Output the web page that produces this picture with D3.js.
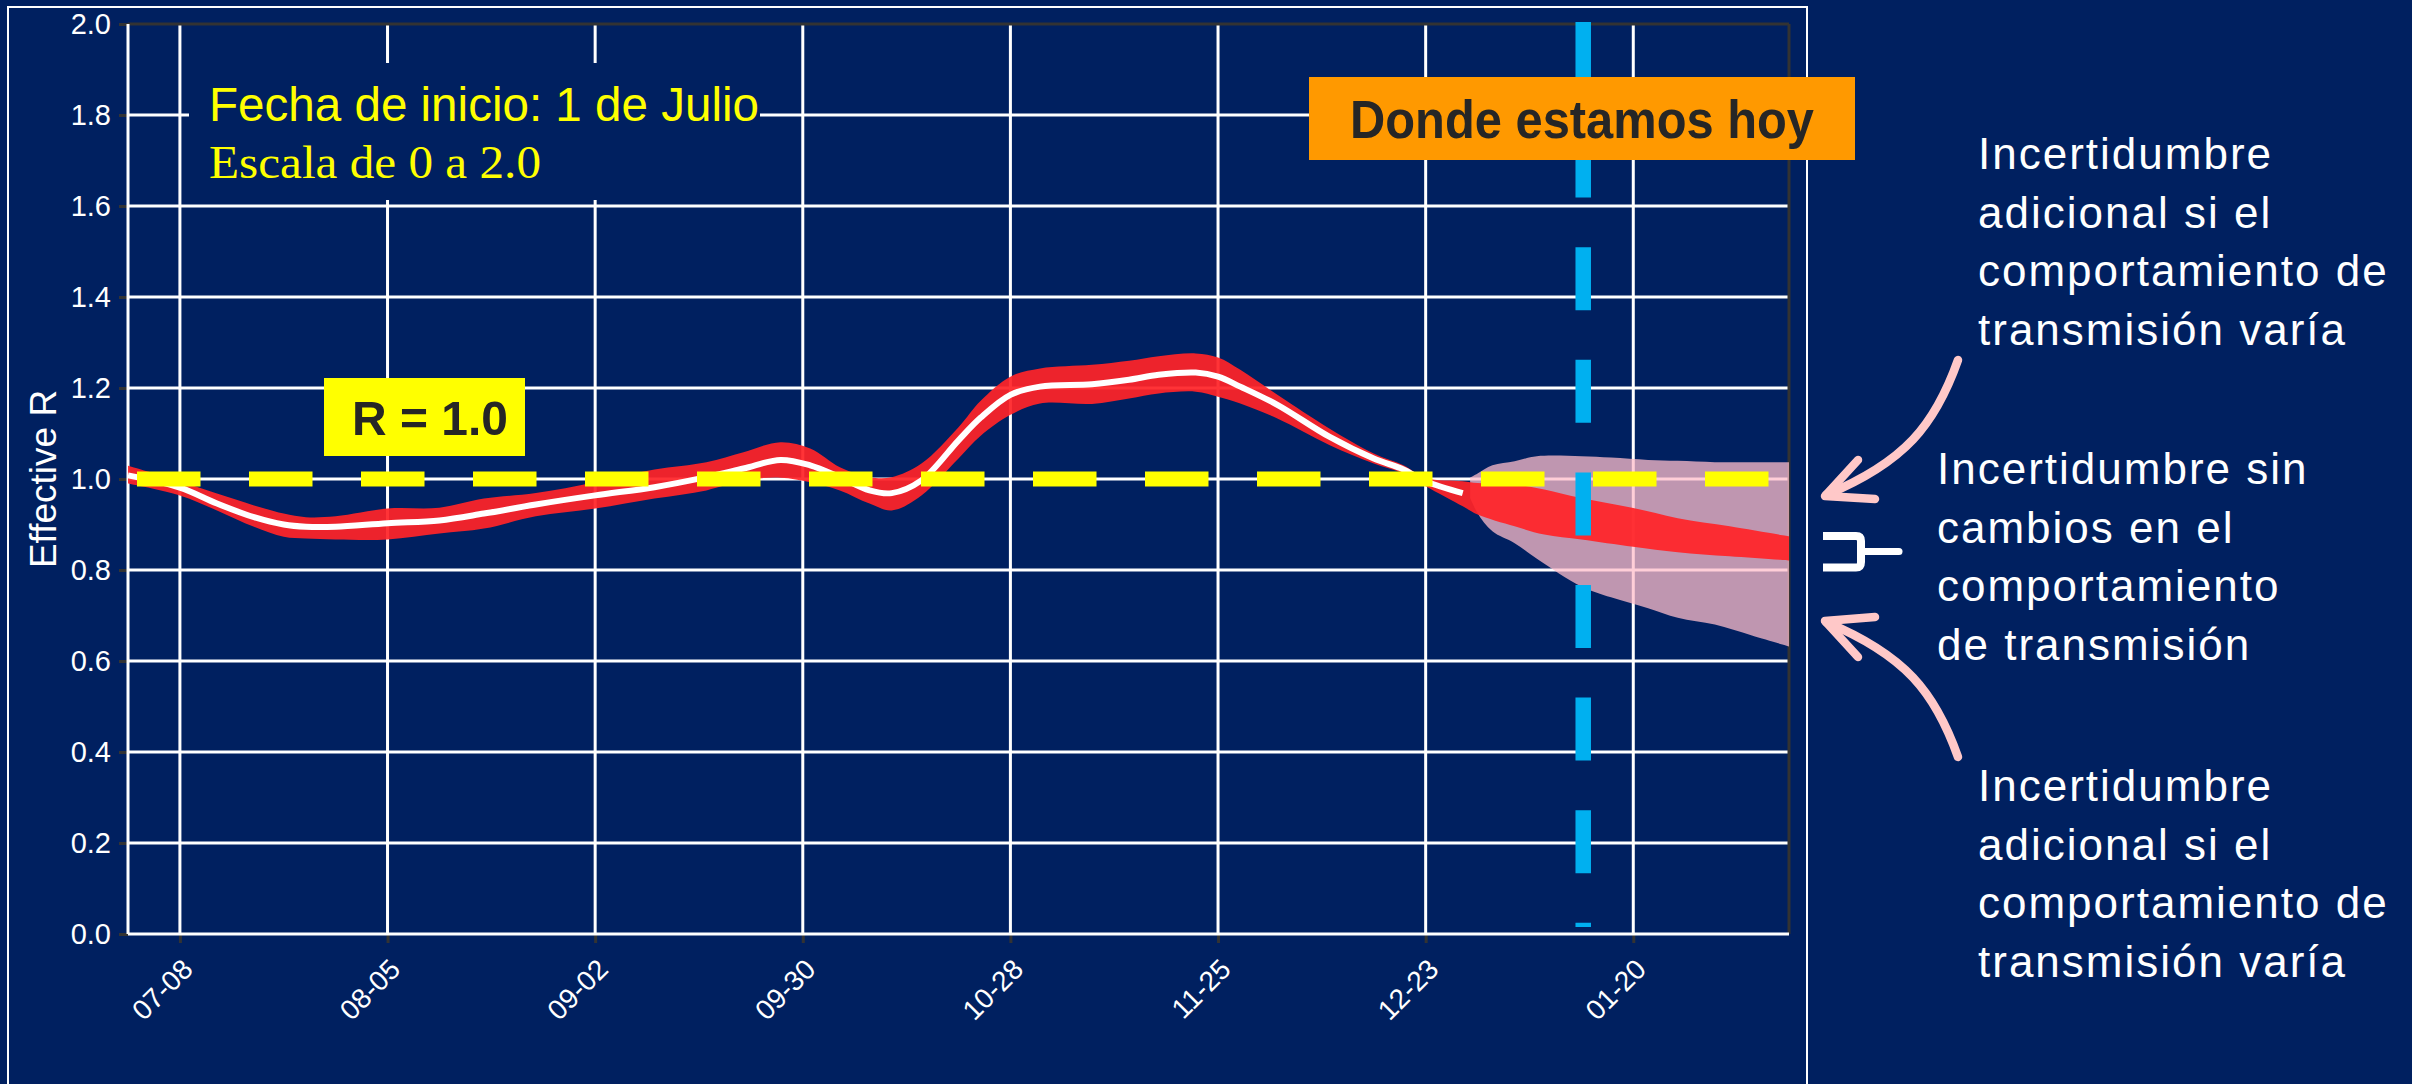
<!DOCTYPE html>
<html>
<head>
<meta charset="utf-8">
<script src="https://cdn.jsdelivr.net/npm/d3@7"></script>
<style>
html,body{margin:0;padding:0;background:#002060;}
svg{display:block;}
</style>
</head>
<body>
<svg id="chart" width="2412" height="1084"></svg>
<script>
// ---------------- DATA ----------------
const dates = ["2020-07-01","2020-07-08","2020-07-13","2020-07-18","2020-07-22","2020-07-25","2020-07-29","2020-08-05","2020-08-12","2020-08-18","2020-08-25","2020-09-02","2020-09-10","2020-09-17","2020-09-22","2020-09-27","2020-10-01","2020-10-05","2020-10-09","2020-10-12","2020-10-16","2020-10-21","2020-10-24","2020-10-28","2020-11-01","2020-11-08","2020-11-13","2020-11-17","2020-11-22","2020-11-25","2020-11-28","2020-12-03","2020-12-10","2020-12-16","2020-12-20","2020-12-23","2020-12-28","2020-12-30","2021-01-04","2021-01-08","2021-01-13","2021-01-20","2021-01-26","2021-02-02","2021-02-10"];
const rLow  = [0.990,0.964,0.931,0.895,0.873,0.869,0.867,0.867,0.880,0.891,0.918,0.935,0.957,0.975,0.997,1.003,0.993,0.975,0.946,0.931,0.964,1.045,1.095,1.141,1.166,1.165,1.177,1.188,1.192,1.181,1.166,1.133,1.075,1.034,1.012,0.984,0.940,0.922,0.896,0.878,0.867,0.851,0.839,0.830,0.821];
const rHigh = [1.029,0.995,0.968,0.942,0.924,0.916,0.918,0.935,0.937,0.957,0.969,0.993,1.021,1.037,1.059,1.081,1.067,1.026,1.004,1.004,1.034,1.114,1.172,1.225,1.243,1.251,1.260,1.270,1.276,1.267,1.240,1.185,1.111,1.056,1.030,1.002,0.995,0.991,0.988,0.977,0.958,0.936,0.914,0.896,0.874];
const rMid  = [1.008,0.981,0.946,0.916,0.900,0.895,0.895,0.903,0.909,0.924,0.944,0.964,0.982,1.004,1.023,1.042,1.030,1.004,0.975,0.969,0.997,1.085,1.135,1.185,1.203,1.208,1.218,1.229,1.234,1.225,1.203,1.163,1.093,1.045,1.021,0.995,0.969,null,null,null,null,null,null,null,null];

const pinkDates = ["2020-12-29","2020-12-30","2021-01-01","2021-01-04","2021-01-07","2021-01-13","2021-01-17","2021-01-22","2021-01-26","2021-01-31","2021-02-05","2021-02-10"];
const pinkHigh  = [1.003,1.012,1.030,1.039,1.050,1.050,1.047,1.042,1.040,1.037,1.037,1.037];
const pinkLow   = [0.958,0.925,0.885,0.859,0.825,0.764,0.740,0.716,0.695,0.680,0.656,0.632];

const xTickDates = ["2020-07-08","2020-08-05","2020-09-02","2020-09-30","2020-10-28","2020-11-25","2020-12-23","2021-01-20"];
const yTicks = [0,0.2,0.4,0.6,0.8,1.0,1.2,1.4,1.6,1.8,2.0];
const domainStart = "2020-07-01", domainEnd = "2021-02-10";
const todayDate = "2021-01-13 06";
const refR = 1.0;

const rightTop = ["Incertidumbre","adicional si el","comportamiento de","transmisión varía"];
const rightMid = ["Incertidumbre sin","cambios en el","comportamiento","de transmisión"];
const rightBot = ["Incertidumbre","adicional si el","comportamiento de","transmisión varía"];

// ---------------- SETUP ----------------
const parse = d3.timeParse("%Y-%m-%d");
const parseH = d3.timeParse("%Y-%m-%d %H");
const svg = d3.select("#chart");
const FONT = "'Liberation Sans', Arial, Helvetica, sans-serif";
const BG = "#002060";

const L = 128, R = 1789, T = 24, B = 934;
const x = d3.scaleTime().domain([parse(domainStart), parse(domainEnd)]).range([L, R]);
const y = d3.scaleLinear().domain([0, 2]).range([B, T]);

svg.append("rect").attr("width",2412).attr("height",1084).attr("fill",BG);
// outer frame
svg.append("rect").attr("x",8).attr("y",7).attr("width",1799).attr("height",1100)
  .attr("fill","none").attr("stroke","#ffffff").attr("stroke-width",2);

// grid
const grid = svg.append("g");
grid.selectAll("line.h").data(yTicks.filter(v => v > 0 && v < 2)).join("line")
  .attr("x1",L).attr("x2",R).attr("y1",d=>y(d)).attr("y2",d=>y(d))
  .attr("stroke","#ffffff").attr("stroke-width",3);
grid.selectAll("line.v").data(xTickDates).join("line")
  .attr("x1",d=>x(parse(d))).attr("x2",d=>x(parse(d))).attr("y1",T).attr("y2",B)
  .attr("stroke","#ffffff").attr("stroke-width",3);

// plot borders
svg.append("line").attr("x1",L).attr("x2",R).attr("y1",T).attr("y2",T).attr("stroke","#333333").attr("stroke-width",3);
svg.append("line").attr("x1",R).attr("x2",R).attr("y1",T).attr("y2",B).attr("stroke","#333333").attr("stroke-width",3);

// axes
const yAxis = svg.append("g").attr("transform",`translate(${L},0)`)
  .call(d3.axisLeft(y).tickValues(yTicks).tickFormat(d3.format(".1f")).tickSize(9).tickPadding(8));
const xAxis = svg.append("g").attr("transform",`translate(0,${B})`)
  .call(d3.axisBottom(x).tickValues(xTickDates.map(parse)).tickFormat(d3.timeFormat("%m-%d")).tickSize(9));
[yAxis, xAxis].forEach(g => {
  g.select(".domain").remove();
  g.selectAll(".tick line").attr("stroke","#333333").attr("stroke-width",3);
  g.selectAll(".tick text").attr("fill","#ffffff").style("font-family",FONT);
});
yAxis.selectAll(".tick text").style("font-size","29px");
xAxis.selectAll(".tick text").style("font-size","28px")
  .attr("text-anchor","end").attr("x",0).attr("y",0).attr("dy",null)
  .attr("transform","translate(14,37) rotate(-45)");
svg.append("line").attr("x1",L).attr("x2",L).attr("y1",T).attr("y2",B).attr("stroke","#ffffff").attr("stroke-width",3);
svg.append("line").attr("x1",L).attr("x2",R).attr("y1",B).attr("y2",B).attr("stroke","#ffffff").attr("stroke-width",3);

svg.append("text").attr("transform",`translate(56,${(T+B)/2}) rotate(-90)`)
  .attr("text-anchor","middle").attr("fill","#ffffff")
  .style("font-family",FONT).style("font-size","37px").text("Effective R");

// text box top-left
svg.append("rect").attr("x",189).attr("y",63).attr("width",571).attr("height",137).attr("fill",BG);
svg.append("text").attr("x",209).attr("y",121).attr("fill","#FFFF00")
  .attr("textLength",550).attr("lengthAdjust","spacingAndGlyphs")
  .style("font-family",FONT).style("font-size","48px").text("Fecha de inicio: 1 de Julio");
svg.append("text").attr("x",209).attr("y",178).attr("fill","#FFFF00")
  .attr("textLength",332).attr("lengthAdjust","spacingAndGlyphs")
  .style("font-family","'Liberation Serif','Times New Roman',serif").style("font-size","46px").text("Escala de 0 a 2.0");

// pink band
const pinkData = pinkDates.map((d,i)=>({d:parse(d), lo:pinkLow[i], hi:pinkHigh[i]}));
svg.append("path").datum(pinkData)
  .attr("d", d3.area().x(d=>x(d.d)).y0(d=>y(d.lo)).y1(d=>y(d.hi)).curve(d3.curveCatmullRom.alpha(0.5)))
  .attr("fill","#FFBECB").attr("fill-opacity",0.75);

// red band
const redData = dates.map((d,i)=>({d:parse(d), lo:rLow[i], hi:rHigh[i], mid:rMid[i]}));
svg.append("path").datum(redData)
  .attr("d", d3.area().x(d=>x(d.d)).y0(d=>y(d.lo)).y1(d=>y(d.hi)).curve(d3.curveCatmullRom.alpha(0.5)))
  .attr("fill","#FF2428").attr("fill-opacity",0.93);

// median
svg.append("path").datum(redData.filter(d=>d.mid!==null))
  .attr("d", d3.line().x(d=>x(d.d)).y(d=>y(d.mid)).curve(d3.curveCatmullRom.alpha(0.5)))
  .attr("fill","none").attr("stroke","#ffffff").attr("stroke-width",6);

// R = 1 reference dashed line
svg.append("line").attr("x1",137).attr("x2",R).attr("y1",y(refR)).attr("y2",y(refR))
  .attr("stroke","#FFFF00").attr("stroke-width",15).attr("stroke-dasharray","63.5 48.5");

// today line
const tx = x(parseH(todayDate));
svg.append("line").attr("x1",tx).attr("x2",tx).attr("y1",22).attr("y2",927)
  .attr("stroke","#00B0F0").attr("stroke-width",15.5).attr("stroke-dasharray","63 49.6");

// R = 1.0 box
svg.append("rect").attr("x",324).attr("y",378).attr("width",201).attr("height",78).attr("fill","#FFFF00");
svg.append("text").attr("x",352).attr("y",435).attr("fill","#262626")
  .attr("textLength",156).attr("lengthAdjust","spacingAndGlyphs")
  .style("font-family",FONT).style("font-size","49px").style("font-weight","bold").text("R = 1.0");

// Donde estamos hoy box
svg.append("rect").attr("x",1309).attr("y",77).attr("width",546).attr("height",83).attr("fill","#FF9900");
svg.append("text").attr("x",1350).attr("y",138).attr("fill","#262626")
  .attr("textLength",464).attr("lengthAdjust","spacingAndGlyphs")
  .style("font-family",FONT).style("font-size","53px").style("font-weight","bold").text("Donde estamos hoy");

// right-side texts
function block(lines, x0, y0){
  const t = svg.append("text").attr("fill","#ffffff").style("font-family",FONT)
    .style("font-size","44px").style("letter-spacing","2px");
  lines.forEach((s,i)=> t.append("tspan").attr("x",x0).attr("y",y0 + i*58.5).text(s));
}
block(rightTop, 1978, 169);
block(rightMid, 1937, 484);
block(rightBot, 1978, 801);

// arrows
const arrowCol = "#FFC8C8";
const ag = svg.append("g").attr("fill","none").attr("stroke",arrowCol).attr("stroke-width",8.5)
  .attr("stroke-linecap","round").attr("stroke-linejoin","round");
ag.append("path").attr("d","M1958,360 C1935,425 1905,462 1826,495");
ag.append("path").attr("d","M1858,460 L1825,496 L1875,499");
ag.append("path").attr("d","M1958,757 C1935,692 1905,655 1826,622");
ag.append("path").attr("d","M1858,657 L1825,621 L1875,617");

// bracket
svg.append("path").attr("d","M1823,536 H1856 Q1861,536 1861,541 V562 Q1861,567.5 1856,567.5 H1823")
  .attr("fill","none").attr("stroke","#ffffff").attr("stroke-width",8);
svg.append("path").attr("d","M1861,551.5 H1899")
  .attr("fill","none").attr("stroke","#ffffff").attr("stroke-width",7).attr("stroke-linecap","round");
</script>
</body>
</html>
